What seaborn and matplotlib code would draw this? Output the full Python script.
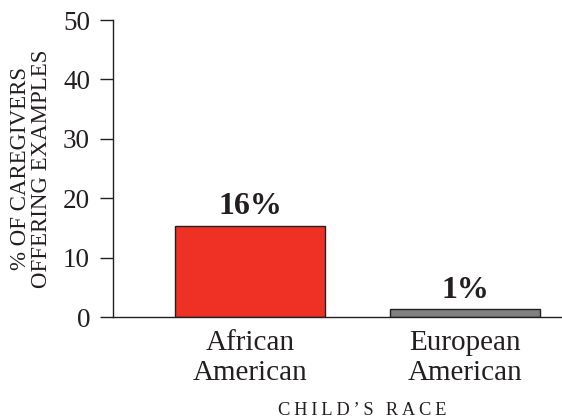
import matplotlib
matplotlib.use('Agg')
import matplotlib.pyplot as plt
import seaborn as sns

races = ['African\nAmerican', 'European\nAmerican']
values = [15.4, 1.35]
labels = ['16%', '1%']
colors = ['#ee3124', '#808080']

sns.set_style('ticks')
plt.rcParams['font.family'] = ['Liberation Serif', 'DejaVu Serif']
ink = '#231f20'

fig = plt.figure(figsize=(5.62, 4.19), dpi=100)
ax = fig.add_axes([113 / 562, 102 / 419, 449 / 562, 297 / 419])

sns.barplot(x=races, y=values, hue=races, palette=colors, legend=False,
            saturation=1, width=0.7, edgecolor=ink, linewidth=1, ax=ax)

for cont, lab in zip(ax.containers, labels):
    ax.bar_label(cont, labels=[lab], padding=3, fontsize=23,
                 fontweight='bold', color=ink)

ax.set_ylim(0, 50)
ax.set_xlim(-0.637, 1.451)
ax.set_yticks(range(0, 51, 10))
ax.tick_params(axis='y', length=9.5, width=1, color=ink, labelsize=19.5,
               labelcolor=ink, pad=7)
ax.tick_params(axis='x', length=0, labelsize=21, labelcolor=ink, pad=9)
ax.set_xlabel('')
ax.set_ylabel('')

sns.despine(ax=ax)
for s in ['left', 'bottom']:
    ax.spines[s].set_color(ink)
    ax.spines[s].set_linewidth(1)

fig.text(31 / 562, 1 - 168.5 / 419, '% OF CAREGIVERS\nOFFERING EXAMPLES',
         rotation=90, ha='center', va='center', fontsize=16.5, color=ink,
         linespacing=0.95)

thin = '\u2009'
ax.text(0.52, -0.316, thin.join("CHILD’S RACE"), transform=ax.get_xaxis_transform(),
        ha='center', va='center', fontsize=13.3, color=ink)

fig.savefig('out.png', dpi=100)
